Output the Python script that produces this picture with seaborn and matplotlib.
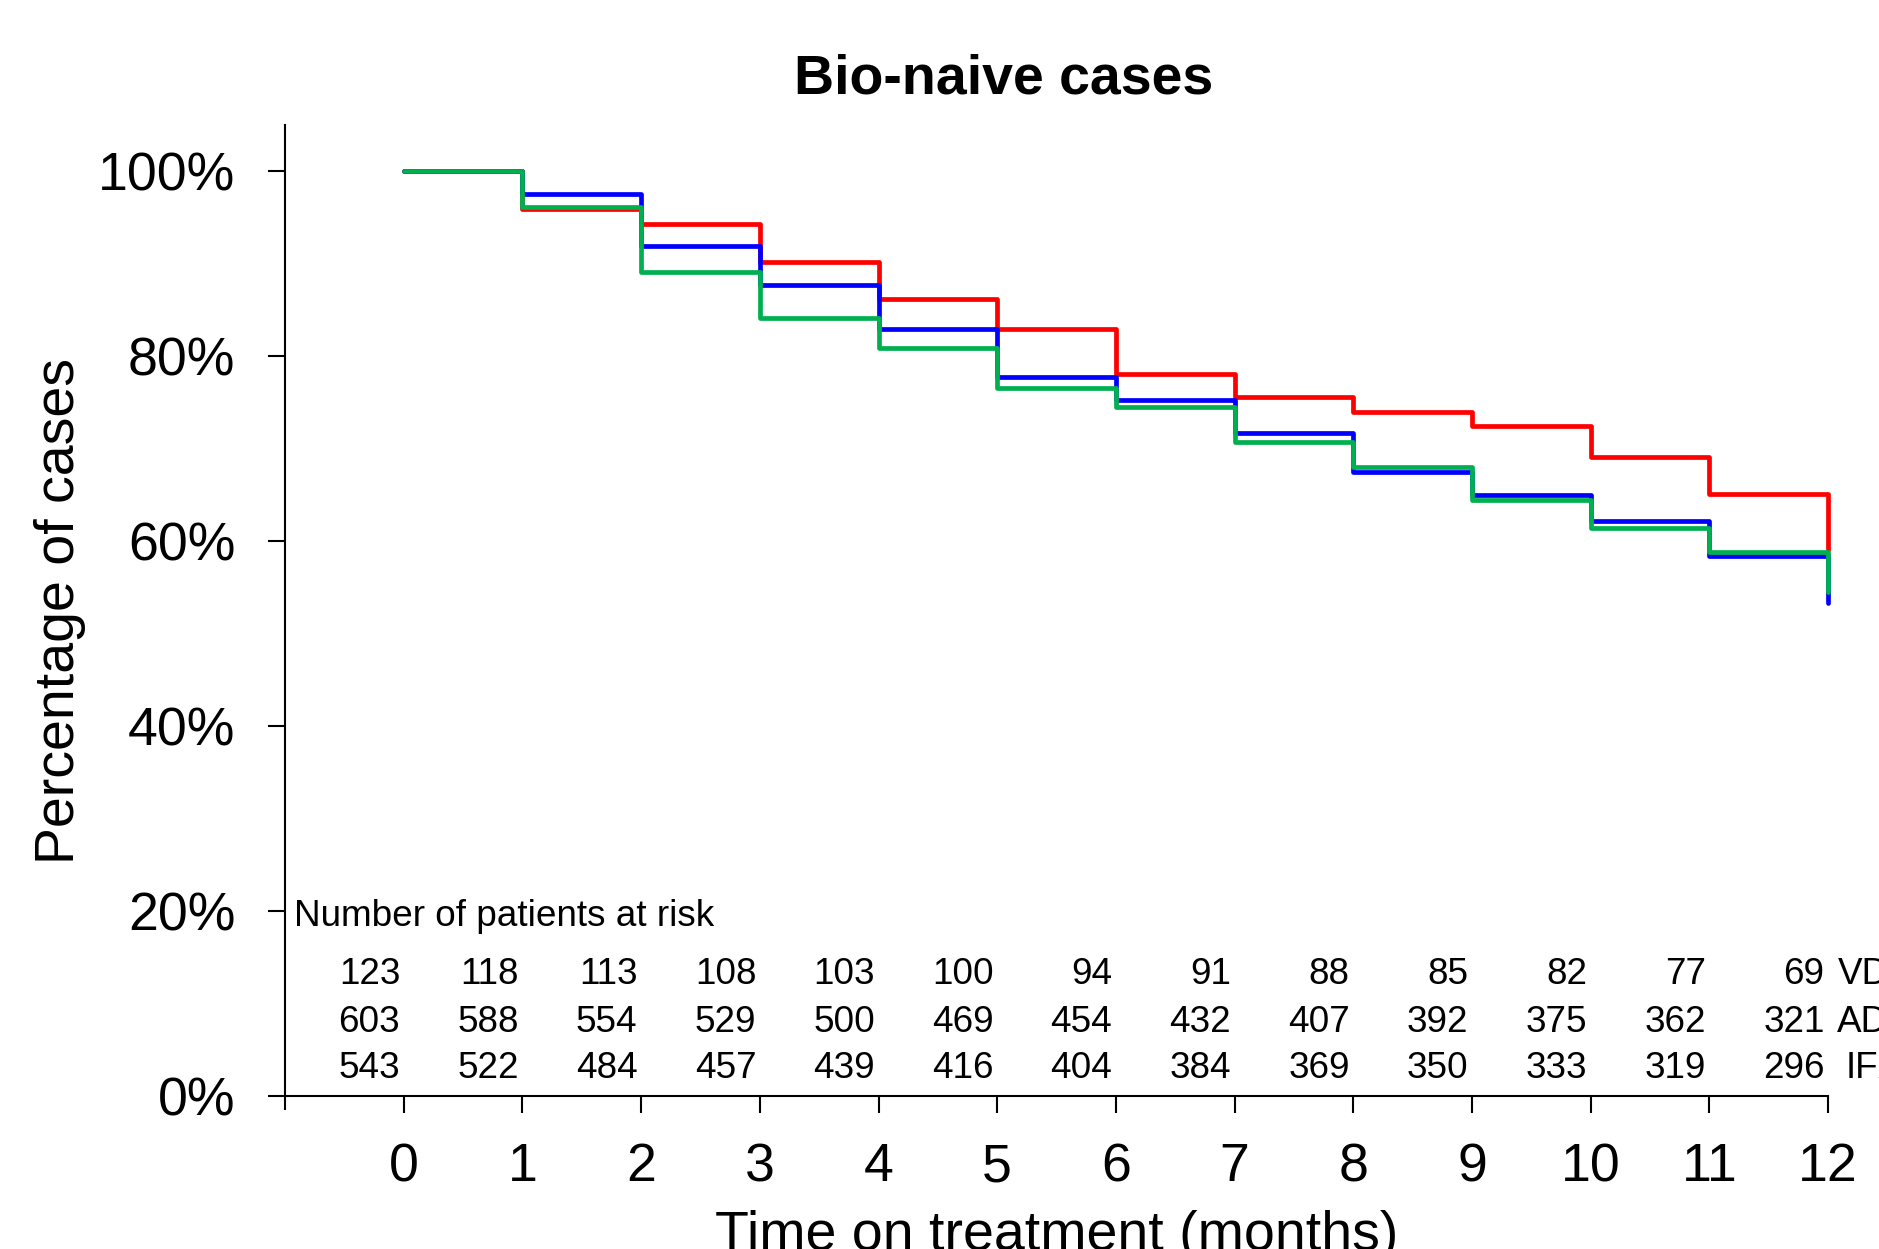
import matplotlib
matplotlib.use("Agg")
import matplotlib.pyplot as plt
import numpy as np
import pandas as pd
import seaborn as sns
from matplotlib.ticker import PercentFormatter

# ---------------- data ----------------
months = list(range(13))
groups = ["VDZ", "ADA", "IFX"]
vdz_pct = [100, 95.9, 94.3, 90.2, 86.2, 82.9, 78.1, 75.6, 74.0, 72.4, 69.1, 65.1, 59.0]
ada_pct = [100, 97.5, 91.9, 87.7, 82.9, 77.8, 75.3, 71.7, 67.5, 65.0, 62.2, 58.4, 53.3]
ifx_pct = [100, 96.1, 89.1, 84.1, 80.9, 76.6, 74.5, 70.7, 68.0, 64.5, 61.4, 58.8, 54.5]
vdz_risk = [123, 118, 113, 108, 103, 100, 94, 91, 88, 85, 82, 77, 69]
ada_risk = [603, 588, 554, 529, 500, 469, 454, 432, 407, 392, 375, 362, 321]
ifx_risk = [543, 522, 484, 457, 439, 416, 404, 384, 369, 350, 333, 319, 296]
yticks = [0, 20, 40, 60, 80, 100]
colors = ["#FF0000", "#0000FF", "#00B050"]

title = "Bio-naive cases"
xlabel = "Time on treatment (months)"
ylabel = "Percentage of cases"
risk_title = "Number of patients at risk"

df = pd.DataFrame({
    "month": months * 3,
    "pct": vdz_pct + ada_pct + ifx_pct,
    "group": [g for g in groups for _ in months],
})

# ---------------- style ----------------
sns.set_theme(style="ticks")
plt.rcParams["font.family"] = ["Liberation Sans", "DejaVu Sans"]
plt.rcParams["text.color"] = "black"
plt.rcParams["axes.labelcolor"] = "black"
plt.rcParams["xtick.color"] = "black"
plt.rcParams["ytick.color"] = "black"
plt.rcParams["axes.edgecolor"] = "black"

W, H = 1879, 1249
fig = plt.figure(figsize=(W / 100, H / 100), dpi=100)
fig.patch.set_facecolor("white")

# axes: x from -1 .. 12.5 (px 285 .. 1887), y from 0 .. 105 (px 1096 .. 125)
ax = fig.add_axes([285 / W, (H - 1096) / H, (1887.5 - 285) / W, (1096 - 125) / H])
ax.set_facecolor("white")

sns.lineplot(
    data=df, x="month", y="pct", hue="group", hue_order=groups,
    palette=colors, estimator=None, legend=False, ax=ax,
    drawstyle="steps-post", linewidth=3.4,
    solid_capstyle="round", solid_joinstyle="round",
)

ax.set_xlim(-1, 12.5)
ax.set_ylim(0, 105)
ax.set_xticks(months)
ax.set_xticklabels([str(m) for m in months])
ax.set_xticks([-1], minor=True)
ax.set_yticks(yticks)
ax.yaxis.set_major_formatter(PercentFormatter(decimals=0))
ax.set_xlabel("")
ax.set_ylabel("")

for side in ["top", "right"]:
    ax.spines[side].set_visible(False)
ax.spines["bottom"].set_bounds(-1, 12)
ax.spines["left"].set_bounds(0, 105)
for side in ["bottom", "left"]:
    ax.spines[side].set_linewidth(1.5)
    ax.spines[side].set_color("black")

ax.tick_params(axis="x", which="major", direction="out", length=12.2, width=1.5,
               labelsize=38.6, pad=21.0, colors="black", labelcolor="black")
ax.tick_params(axis="x", which="minor", direction="out", length=10, width=1.5,
               colors="black")
ax.tick_params(axis="y", direction="out", length=12.2, width=1.5,
               labelsize=38.6, pad=23.5, colors="black", labelcolor="black")
ax.grid(False)

# ---------------- risk table ----------------
fs_tab = 26.6
ax.text(-0.92, 18.4, risk_title, fontsize=fs_tab, ha="left", va="baseline", color="black")
row_y = [12.1, 6.95, 1.9]
for risks, yb, g in zip([vdz_risk, ada_risk, ifx_risk], row_y, groups):
    for m, r in zip(months, risks):
        ax.text(m - 0.03, yb, str(r), fontsize=fs_tab, ha="right", va="baseline", color="black")
    ax.text(12.39, yb, g, fontsize=fs_tab, ha="center", va="baseline", color="black")

# ---------------- titles ----------------
fig.text(1004 / W, 1 - 93.4 / H, title, fontsize=40, fontweight="bold",
         ha="center", va="baseline", color="black")
fig.text(1056.5 / W, 1 - 1250 / H, xlabel, fontsize=40, ha="center", va="baseline",
         color="black")
fig.text(73.6 / W, 1 - 610.5 / H, ylabel, fontsize=40, rotation=90,
         rotation_mode="anchor", ha="center", va="baseline", color="black")

fig.savefig("out.png", dpi=100, facecolor="white")
